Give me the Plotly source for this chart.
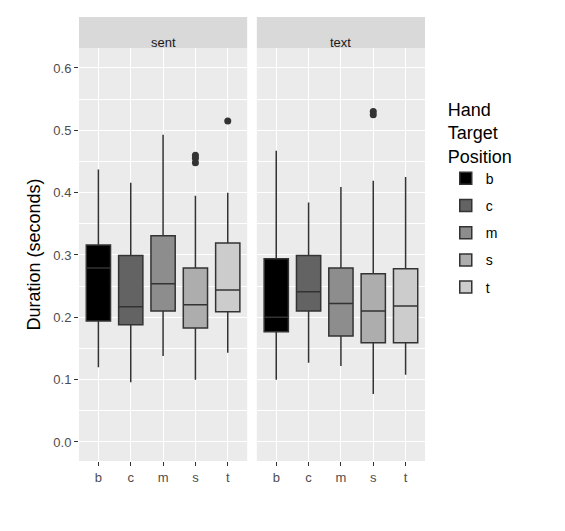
import plotly.graph_objects as go
from plotly.subplots import make_subplots

cats = ["b", "c", "m", "s", "t"]
colors = ["#000000", "#636363", "#8d8d8d", "#adadad", "#cccccc"]
panels = ["sent", "text"]
lower = {"sent": [0.120, 0.096, 0.138, 0.100, 0.143], "text": [0.100, 0.127, 0.122, 0.077, 0.108]}
q1 = {"sent": [0.194, 0.188, 0.210, 0.183, 0.209], "text": [0.177, 0.210, 0.170, 0.159, 0.159]}
med = {"sent": [0.279, 0.217, 0.254, 0.220, 0.244], "text": [0.200, 0.241, 0.222, 0.210, 0.218]}
q3 = {"sent": [0.316, 0.299, 0.331, 0.279, 0.319], "text": [0.294, 0.299, 0.279, 0.270, 0.278]}
upper = {"sent": [0.437, 0.416, 0.493, 0.395, 0.400], "text": [0.467, 0.384, 0.409, 0.419, 0.425]}
outliers = {"sent": {"s": [0.460, 0.455, 0.448], "t": [0.515]}, "text": {"s": [0.530, 0.525]}}

fig = make_subplots(rows=1, cols=2, shared_yaxes=True, horizontal_spacing=0.028)
for pi, p in enumerate(panels):
    for i, c in enumerate(cats):
        fig.add_trace(go.Box(x=[i], q1=[q1[p][i]], median=[med[p][i]], q3=[q3[p][i]],
                             lowerfence=[lower[p][i]], upperfence=[upper[p][i]],
                             width=0.75, fillcolor=colors[i], line=dict(color="#333333", width=1.5),
                             name=c, legendgroup=c, showlegend=(pi == 0), boxpoints=False,
                             whiskerwidth=0),
                      row=1, col=pi + 1)
        if c in outliers[p]:
            ys = outliers[p][c]
            fig.add_trace(go.Scatter(x=[i] * len(ys), y=ys, mode="markers",
                                     marker=dict(color="#333333", size=7), showlegend=False,
                                     hoverinfo="skip"), row=1, col=pi + 1)

ydom = [0, 413 / 444]
axfont = dict(family="Liberation Sans", size=13, color="#4d4d4d")
for k in (1, 2):
    fig.update_xaxes(row=1, col=k, range=[-0.6, 4.6], tickvals=list(range(5)), ticktext=cats,
                     showgrid=True, gridcolor="white", gridwidth=1.2, zeroline=False,
                     ticks="outside", ticklen=4, tickcolor="#333333", tickfont=axfont)
    fig.update_yaxes(row=1, col=k, range=[-0.0305, 0.632], domain=ydom, dtick=0.1, tickformat=".1f",
                     showgrid=True, gridcolor="white", gridwidth=1.2, zeroline=False,
                     minor=dict(dtick=0.05, showgrid=True, gridcolor="white", gridwidth=0.5),
                     tickfont=axfont)
fig.update_yaxes(row=1, col=1, ticks="outside", ticklen=4, tickcolor="#333333",
                 title=dict(text="Duration (seconds)", standoff=8,
                            font=dict(family="Liberation Sans", size=18, color="black")))

shapes, annos = [], []
for p, xa in zip(panels, ["x domain", "x2 domain"]):
    shapes.append(dict(type="rect", xref=xa, yref="paper", x0=0, x1=1, y0=ydom[1], y1=1,
                       fillcolor="#d9d9d9", line=dict(width=0), layer="below"))
    annos.append(dict(text=p, xref=xa, yref="paper", x=0.5, y=(ydom[1] + 1) / 2, showarrow=False,
                      font=dict(family="Liberation Sans", size=13, color="#1a1a1a")))

fig.update_layout(width=565, height=531, margin=dict(l=71, r=148, t=9, b=78),
                  plot_bgcolor="#ebebeb", paper_bgcolor="white", shapes=shapes, annotations=annos,
                  legend=dict(title=dict(text="Hand<br>Target<br>Position",
                                         font=dict(family="Liberation Sans", size=18, color="black")),
                              font=dict(family="Liberation Sans", size=14, color="black"),
                              x=1.06, y=0.83, yanchor="top", bgcolor="white", tracegroupgap=6))
fig.write_html("out.html")
